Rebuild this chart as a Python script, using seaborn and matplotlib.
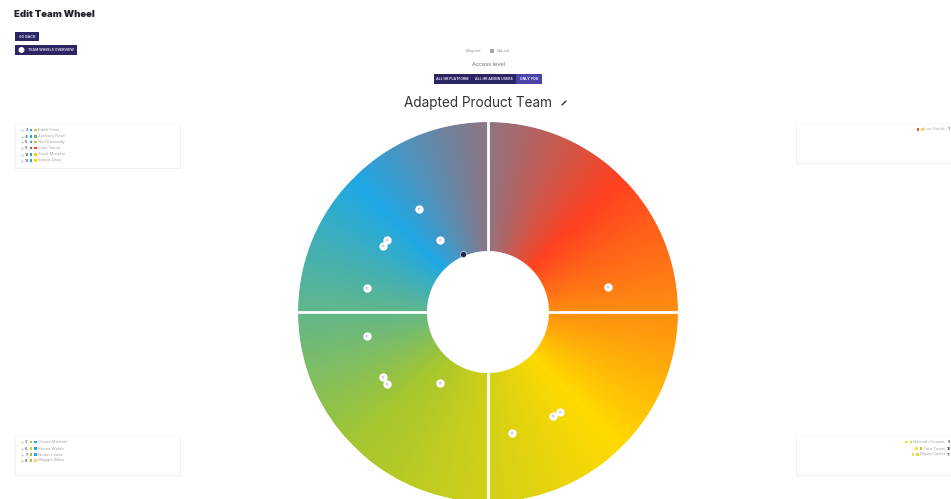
import numpy as np
import matplotlib
matplotlib.use("Agg")
import matplotlib.pyplot as plt
from matplotlib.colors import LinearSegmentedColormap
from matplotlib.patches import Rectangle, Circle
import pandas as pd
import seaborn as sns

# ---------- data ----------
wheel_colors = ["#1fa7e4", "#ff4120", "#ffd900", "#a5c62e", "#1fa7e4"]   # at 315, 45, 135, 225, 315 deg
wheel_stops = [0.0, 0.25, 0.5, 0.75, 1.0]
dividers = [0, 90, 180, 270]

point_theta = [326.2, 305.5, 302.2, 326.3, 281.2, 78.2, 258.8, 238.2, 234.5, 214.0, 148.0, 144.2, 168.8]
point_r = [124, 124, 124, 86.5, 123.4, 122.6, 123.4, 123.5, 124, 85.7, 122.6, 123.2, 123.4]
center_theta = [336.7]
center_r = [63]

names_tl = ["Edith Frew", "Zackary Rose", "Neil Kennedy", "Liam Garra", "Scott Murphy", "Iresha Gray"]
nums_tl = ["2", "4", "5", "9", "12", "13"]
chips_tl = [["#1fa7e4", "#c6cc2a"], ["#1fa7e4", "#62b68a"], ["#1fa7e4", "#c6cc2a"],
            ["#b0507a", "#ff4120"], ["#1fa7e4", "#e8cf10"], ["#1fa7e4", "#ffd900"]]
names_bl = ["Chase Mitchell", "Renee Walsh", "Nolan Lewis", "Maggie Allen"]
nums_bl = ["3", "6", "7", "8"]
chips_bl = [["#a5c62e", "#1fa7e4"], ["#d6d020", "#1fa7e4"], ["#a5c62e", "#1fa7e4"], ["#a5c62e", "#ffd070"]]
names_br = ["Hannah Cooper", "Tara Toner", "Myles Carter"]
nums_br = ["9", "10", "11"]
chips_br = [["#f4e04a", "#e0d030"], ["#f4e04a", "#b8cc40"], ["#f4e04a", "#e8d83a"]]
names_tr = ["Lou Smith"]
nums_tr = ["1"]
chips_tr = [["#e0603a", "#ffd070"]]

title = "Adapted Product Team"
page_title = "Edit Team Wheel"
buttons = ["ALL HR PLATFORM", "ALL HR ADMIN USERS", "ONLY YOU"]

# ---------- setup ----------
sns.set_theme(style="white")
plt.rcParams["font.family"] = ["Inter", "DejaVu Sans"]
W, H = 951, 499
fig = plt.figure(figsize=(W / 100, H / 100), dpi=100, facecolor="white")

# wheel
cx, cy, R = 488, 312, 190
pol = fig.add_axes([(cx - R) / W, 1 - (cy + R) / H, 2 * R / W, 2 * R / H], projection="polar")
pol.set_theta_zero_location("N")
pol.set_theta_direction(-1)
pol.set_ylim(0, R)
pol.axis("off")
pol.patch.set_alpha(0)

cmap = LinearSegmentedColormap.from_list("wheel", list(zip(wheel_stops, wheel_colors)), N=1440)
th_deg = np.arange(0, 360.25, 0.25)
r_edges = np.array([60, R + 1])
vals = (((th_deg[:-1] + 0.125) + 45) % 360 / 360)[None, :]
pol.pcolormesh(np.deg2rad(th_deg), r_edges, vals, cmap=cmap, vmin=0, vmax=1, shading="flat",
               antialiased=False, linewidth=0, edgecolors="none")
# anti-aliased white rings hide the stepped mesh edges
th_ring = np.deg2rad(np.arange(0, 360.5, 0.5))
pol.plot(th_ring, np.full_like(th_ring, R + 1.5), color="white", lw=2.2, zorder=2, clip_on=False)
pol.plot(th_ring, np.full_like(th_ring, 59.5), color="white", lw=2.2, zorder=2, clip_on=False)
for d in dividers:
    pol.plot([np.deg2rad(d)] * 2, [60, R + 1], color="white", lw=2.0, solid_capstyle="butt", zorder=3, clip_on=False)

pts = pd.DataFrame({"theta": np.deg2rad(point_theta), "r": point_r})
sns.scatterplot(data=pts, x="theta", y="r", ax=pol, s=36, color="white", edgecolor="white",
                linewidth=0, zorder=5, legend=False, clip_on=False)
sns.scatterplot(data=pts, x="theta", y="r", ax=pol, s=4, color="#cfcdea", edgecolor="none",
                linewidth=0, zorder=6, legend=False, clip_on=False)
cp = pd.DataFrame({"theta": np.deg2rad(center_theta), "r": center_r})
sns.scatterplot(data=cp, x="theta", y="r", ax=pol, s=20, color="#1c2a5c", edgecolor="#dfe3f2",
                linewidth=0.5, zorder=6, legend=False, clip_on=False)
pol.set_xlabel("")
pol.set_ylabel("")

# page overlay in pixel coordinates
ax = fig.add_axes([0, 0, 1, 1], facecolor="none")
ax.set_xlim(0, W)
ax.set_ylim(H, 0)
ax.axis("off")

NAVY = "#2b2663"
PURPLE = "#4c42ac"

ax.text(14.5, 14.5, page_title, fontsize=6.9, fontweight="black", color="#22222b", va="center", ha="left")
ax.add_patch(Rectangle((15, 32), 24, 9, color=NAVY, lw=0))
ax.text(27, 36.5, "GO BACK", fontsize=2.6, color="#d8d8ec", ha="center", va="center", fontweight="bold")
ax.add_patch(Rectangle((15, 45), 61.5, 10, color=NAVY, lw=0))
ax.add_patch(Circle((21.5, 50), 3, color="white", lw=0))
ax.text(28, 50, "TEAM WHEELS OVERVIEW", fontsize=2.5, color="#d8d8ec", ha="left", va="center", fontweight="bold")

# toggle
ax.text(481, 50.5, "Adapted", fontsize=2.8, color="#999999", ha="right", va="center")
ax.add_patch(Rectangle((489.5, 48.5), 4, 4, color="#a4a4aa", lw=0))
ax.text(497, 50.5, "Natural", fontsize=2.8, color="#999999", ha="left", va="center")
ax.text(488, 64.5, "Access level", fontsize=4.0, color="#666a70", ha="center", va="center")

# access buttons
ax.add_patch(Rectangle((434, 73.5), 82, 10.5, color=NAVY, lw=0))
ax.add_patch(Rectangle((516, 73.5), 26, 10.5, color=PURPLE, lw=0))
ax.text(452.5, 78.8, buttons[0], fontsize=2.5, color="#dcdcee", ha="center", va="center", fontweight="bold")
ax.text(494, 78.8, buttons[1], fontsize=2.5, color="#dcdcee", ha="center", va="center", fontweight="bold")
ax.text(529, 78.8, buttons[2], fontsize=2.5, color="#ffffff", ha="center", va="center", fontweight="bold")

# heading
ax.text(404.5, 102.5, title, fontsize=9.75, color="#333338", ha="left", va="center")
ax.plot([562, 566], [105, 101], color="#333338", lw=1.0, solid_capstyle="round")

# panels
def panel(x0, y0, x1, y1):
    ax.add_patch(Rectangle((x0 - 0.5, y0 + 1.5), x1 - x0 + 1, y1 - y0, color="#cccccc", lw=0, zorder=1))
    ax.add_patch(Rectangle((x0, y0), x1 - x0, y1 - y0, facecolor="white", edgecolor="#f5f5f5", lw=0.5, zorder=2))

panel(15, 123, 180, 167.5)
panel(15, 435, 180, 474.5)
panel(796, 123, 960, 162.5)
panel(796, 435, 960, 474.5)

def left_rows(names, nums, chips, ys):
    for n, num, ch, y in zip(names, nums, chips, ys):
        ax.plot(22, y, "o", ms=1.3, color="#b8b8b8", mew=0, zorder=3)
        ax.text(26.5, y, num, fontsize=2.8, color="#555577", ha="center", va="center", zorder=3, fontweight="bold")
        ax.add_patch(Rectangle((29.5, y - 1.2), 2.6, 2.6, color=ch[0], lw=0, zorder=3))
        ax.add_patch(Rectangle((34, y - 1.2), 2.6, 2.6, color=ch[1], lw=0, zorder=3))
        ax.text(37.5, y, n, fontsize=3.0, color="#a0a0a0", ha="left", va="center", zorder=3)

left_rows(names_tl, nums_tl, chips_tl, [130, 136.5, 142, 148, 154.5, 160.5])
left_rows(names_bl, nums_bl, chips_bl, [442, 448.5, 454.5, 460.5])

fig.canvas.draw()
rend = fig.canvas.get_renderer()

def right_rows(names, nums, chips, ys, xtext):
    for n, num, ch, y in zip(names, nums, chips, ys):
        t = ax.text(xtext, y, n, fontsize=3.0, color="#a0a0a0", ha="right", va="center", zorder=3)
        x_left = t.get_window_extent(rend).x0
        ax.add_patch(Rectangle((x_left - 3.5, y - 1.2), 2.6, 2.6, color=ch[1], lw=0, zorder=3))
        ax.add_patch(Rectangle((x_left - 8, y - 1.2), 2.6, 2.6, color=ch[0], lw=0, zorder=3))
        ax.text(xtext + 4, y, num, fontsize=2.8, color="#555577", ha="center", va="center", zorder=3, fontweight="bold")

right_rows(names_br, nums_br, chips_br, [442, 448.5, 454.5], 945)
right_rows(names_tr, nums_tr, chips_tr, [129.5], 945)

fig.savefig("out.png", dpi=100, facecolor="white")
